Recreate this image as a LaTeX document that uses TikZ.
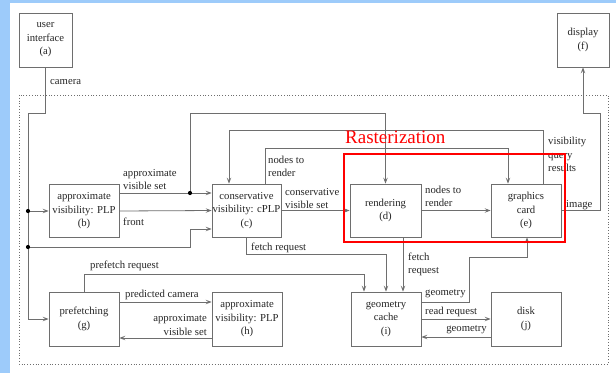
\documentclass[tikz,border=0pt]{standalone}
\usepackage{fontspec}
\setmainfont{Liberation Serif}
\usetikzlibrary{arrows.meta,calc}
\definecolor{wire}{HTML}{6E6E6E}
\definecolor{ink}{HTML}{262626}
\definecolor{sky}{HTML}{9DCBFA}
\tikzset{
  txt/.style={text=ink, font=\fontsize{10.7}{13.5}\selectfont},
  blk/.style={txt, draw=wire, line width=0.8pt, minimum width=70pt,
    minimum height=53pt, align=center, inner sep=0pt},
  wirestyle/.style={draw=wire, line width=0.8pt},
  arr/.style={wirestyle, -{Stealth[length=6pt,width=4.5pt,inset=2.5pt]}, fill=none},
  lbl/.style={txt, align=left, inner sep=0pt},
  jdot/.style={circle, fill=black, inner sep=0pt, minimum size=4.2pt},
}
\begin{document}
\begin{tikzpicture}[x=1pt,y=-1pt]
% page and side strips
\fill[white] (0,0) rectangle (616,373);
\fill[sky] (0,0) rectangle (10,373);
\fill[sky] (0,0) rectangle (616,3);
\useasboundingbox (0,0) rectangle (616,373);

% dotted system boundary
\draw[wire, line width=0.8pt, dotted] (19,95) rectangle (608,364);

% blocks
\node[blk, minimum width=53pt, minimum height=54pt] (a) at (45.5,40) {user\\interface\\(a)};
\node[blk, minimum width=52pt, minimum height=54pt] (f) at (583,40) {display\\(f)};
\node[blk] (b) at (84,211) {approximate\\visibility: PLP\\(b)};
\node[blk, minimum width=69pt] (c) at (246.5,210.5) {conservative\\visibility: cPLP\\(c)};
\node[blk, minimum width=71pt] (d) at (385.5,210.5) {rendering\\(d)};
\node[blk] (e) at (526,210.5) {graphics\\card\\(e)};
\node[blk, minimum height=54pt] (g) at (84,319) {prefetching\\(g)};
\node[blk, minimum height=54pt] (h) at (247,319) {approximate\\visibility: PLP\\(h)};
\node[blk, minimum height=54pt] (i) at (386,319) {geometry\\cache\\(i)};
\node[blk, minimum height=54pt] (j) at (526,319) {disk\\(j)};

% bend and junction points
\coordinate (cam) at (28,113);
\coordinate (t1) at (28,211);
\coordinate (t2) at (28,247);
\coordinate (t2b) at (190,229);
\coordinate (avs) at (190,193);
\coordinate (r113) at (0,113);
\coordinate (q1) at (543,130);
\coordinate (q2) at (229,130);
\coordinate (n1) at (265,148);
\coordinate (n2) at (508,148);
\coordinate (f2) at (386,254);
\coordinate (fx) at (403,0);
\coordinate (p1) at (84,274);
\coordinate (p2) at (364,274);
\coordinate (g1) at (469,302);
\coordinate (g2) at (527,257);
\coordinate (ie) at (600,113);
\coordinate (y302) at (0,302);
\coordinate (y338) at (0,338);
\coordinate (y319) at (0,319);
\coordinate (y337) at (0,337);
\coordinate (y193) at (0,193);

% camera distribution
\draw[arr] (a.south) |- (cam) |- (g.west);
\draw[arr] (t1) -- (b.west);
\draw[arr] (t2) -| (t2b) -- (c.west |- t2b);
\node[jdot] at (t1) {};
\node[jdot] at (t2) {};
\node[lbl, anchor=west] at (50,82) {camera};

% approximate visible set to (c) and (d)
\draw[arr] (b.east |- avs) -- (c.west |- avs);
\draw[arr] (avs) |- (r113 -| d.north) -- (d.north);
\node[jdot] at (avs) {};
\node[lbl, anchor=west] at (123,179.5) {approximate\\visible set};

% front
\draw[arr] (b.east) -- (c.west);
\node[lbl, anchor=west] at (123,222) {front};

% (c) -> (d) -> (e) -> (f)
\draw[arr] (c.east) -- (d.west);
\node[lbl, anchor=west] at (285,198.5) {conservative\\visible set};
\draw[arr] (d.east) -- (e.west);
\node[lbl, anchor=west] at (425,196.5) {nodes to\\render};
\draw[arr] (e.east) -| (ie) -| (f.south);
\node[lbl, anchor=west] at (566,205) {image};

% visibility query results (e) -> (c)
\draw[arr] (e.north -| q1) -- (q1) -- (q2) -- (c.north -| q2);
\node[lbl, anchor=west] at (548,154.5) {visibility\\query\\results};

% nodes to render (c) -> (e)
\draw[arr] (c.north -| n1) -- (n1) -- (n2) -- (e.north -| n2);
\node[lbl, anchor=west] at (268,166.5) {nodes to\\render};

% fetch requests
\draw[arr] (c.south) |- (f2) -- (i.north -| f2);
\node[lbl, anchor=west] at (251,248) {fetch request};
\draw[arr] (d.south -| fx) -- (i.north -| fx);
\node[lbl, anchor=west] at (408,264.5) {fetch\\request};

% prefetch request
\draw[arr] (g.north -| p1) -- (p1) -- (p2) -- (i.north -| p2);
\node[lbl, anchor=west] at (90,266) {prefetch request};

% prefetching loop
\draw[arr] (g.east |- y302) -- (h.west |- y302);
\node[lbl, anchor=west] at (125,295) {predicted camera};
\draw[arr] (h.west |- y338) -- (g.east |- y338);
\node[lbl, anchor=east, align=right] at (207,325) {approximate\\visible set};

% geometry paths
\draw[arr] (i.east |- g1) -- (g1) |- (g2) -- (e.south -| g2);
\node[lbl, anchor=west] at (425,294) {geometry};
\draw[arr] (i.east |- y319) -- (j.west |- y319);
\node[lbl, anchor=west] at (425,312) {read request};
\draw[arr] (j.west |- y337) -- (i.east |- y337);
\node[lbl, anchor=east] at (487,330) {geometry};

% rasterization group
\draw[red, line width=2.6pt] (344,154) rectangle (565,242);
\node[text=red, font=\fontsize{19}{22}\selectfont, anchor=base west, inner sep=0pt] (rz) at (345,143) {Rasterization};
\end{tikzpicture}
\end{document}
